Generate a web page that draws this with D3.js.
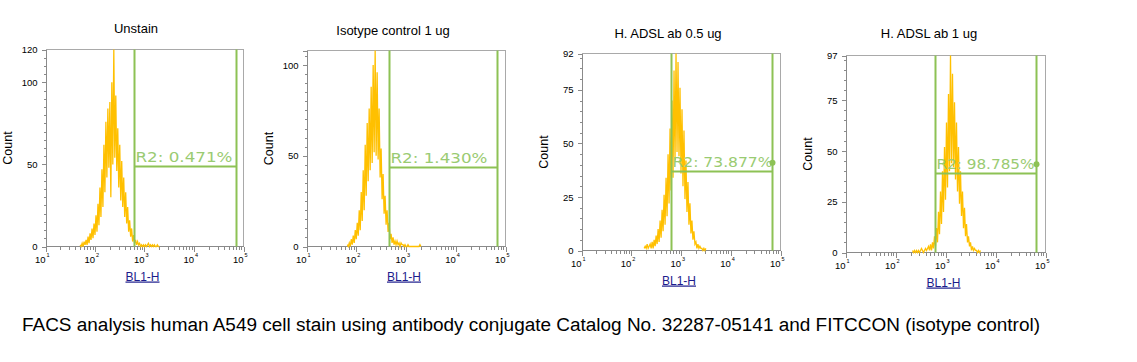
<!DOCTYPE html>
<html>
<head>
<meta charset="utf-8">
<script src="https://cdn.jsdelivr.net/npm/d3@7"></script>
<style>
  html, body { margin: 0; padding: 0; background: #ffffff; }
  svg { display: block; }
</style>
</head>
<body>
<svg id="chart" width="1137" height="362"></svg>
<script>
// ---------------- DATA ----------------
const panelTitles = ["Unstain", "Isotype control 1 ug", "H. ADSL ab 0.5 ug", "H. ADSL ab 1 ug"];
const yMaxes = [120, 108, 92, 97];
const yTickValues = [[0, 50, 100, 120], [0, 50, 100], [0, 25, 50, 75, 92], [0, 25, 50, 75, 97]];
const xTickExponents = [1, 2, 3, 4, 5];
const xAxisLabel = "BL1-H";
const yAxisLabel = "Count";
// log10 of the first channel of each histogram, channel width in decades
const channelStartLog = [1.70, 1.82, 2.26, 2.34];
const channelWidthLog = 0.02;
const unstainCounts = [1,0,2,0,3,1,4,1,6,2,8,4,11,5,14,7,19,9,26,13,36,18,47,24,62,33,76,42,84,48,88,30,100,50,120,54,92,46,72,36,62,28,52,24,42,18,33,14,24,9,16,6,11,3,7,2,4,1,3,1,2,0,1,0,1,0,1,0,1,2,0,1,0,1,0,1,0,0,1,0,0];
const isotypeCounts = [1,0,2,0,4,1,6,2,9,4,13,6,20,9,30,14,42,20,56,28,68,36,76,42,88,46,100,52,108,50,96,48,76,38,54,26,40,18,28,12,20,8,13,4,7,2,5,1,3,1,3,1,2,0,2,1,1,0,1,0,0,1,0,0,0,0,0,0,0,0,0,0,0,1,0];
const adsl05Counts = [1,2,1,3,1,2,3,1,4,1,5,2,7,3,10,4,14,6,19,9,26,12,34,16,45,22,57,28,70,34,84,42,92,46,88,44,76,36,66,30,56,24,42,18,32,12,22,8,14,5,9,3,4,1,3,1,2,1,1,0,1,0,1];
const adsl1Counts = [1,0,1,0,1,0,1,0,1,2,1,0,1,2,1,2,3,1,4,1,5,2,8,3,12,5,20,9,30,14,40,20,52,26,64,32,78,40,97,44,88,42,74,36,64,30,52,24,40,18,30,12,22,8,14,5,8,3,5,1,3,1,2,1,1,0,1,0,1];
const histograms = [unstainCounts, isotypeCounts, adsl05Counts, adsl1Counts];
// gate R2 (fluorescence bounds and the count level of its bar)
const gateLow = [617, 462, 631, 617];
const gateHigh = [69000, 69000, 67600, 66000];
const gateLevel = [48.9, 44, 37, 39.3];
const gateMarkerLevel = [null, null, 41, 43.5];
const regionLabels = ["R2: 0.471%", "R2: 1.430%", "R2: 73.877%", "R2: 98.785%"];
const caption = "FACS analysis human A549 cell stain using antibody conjugate Catalog No. 32287-05141 and FITCCON (isotype control)";

// ---------------- LAYOUT ----------------
const layout = [
  {left: 45.5, right: 243.5, top: 49.5, bottom: 246.5, titleX: 136, titleY: 33, labelLen: 97},
  {left: 306.5, right: 505.5, top: 50.5, bottom: 246.5, titleX: 393, titleY: 35, labelLen: 97},
  {left: 581.5, right: 780.5, top: 53.5, bottom: 250.5, titleX: 668, titleY: 38, labelLen: 100},
  {left: 845.5, right: 1045.5, top: 55.5, bottom: 252.5, titleX: 929, titleY: 38, labelLen: 98}
];
const histColor = "#FFC000";
const gateColor = "#8DC255";
const gateTextColor = "#9ACB72";
const axisColor = "#8a8a8a";
const frameColor = "#a9a9a9";
const tickFont = "'Liberation Sans Narrow', 'Arial Narrow', Arial, sans-serif";

const svg = d3.select("#chart");

panelTitles.forEach((title, i) => {
  const L = layout[i];
  const g = svg.append("g");
  const x = d3.scaleLog().domain([10, 100000]).range([L.left, L.right]);
  const y = d3.scaleLinear().domain([0, yMaxes[i]]).range([L.bottom, L.top]);

  // title
  g.append("text").attr("x", L.titleX).attr("y", L.titleY)
    .attr("text-anchor", "middle").attr("font-family", "Arial, 'Liberation Sans', sans-serif")
    .attr("font-size", 13).attr("fill", "#000").text(title);

  // frame (top/right)
  g.append("path").attr("d", `M${L.left},${L.top}H${L.right}V${L.bottom}`)
    .attr("fill", "none").attr("stroke", frameColor).attr("stroke-width", 1)
    .attr("shape-rendering", "crispEdges");

  // y axis
  const yAxis = d3.axisLeft(y).tickValues(yTickValues[i]).tickSize(4).tickPadding(4);
  const ya = g.append("g").attr("transform", `translate(${L.left},0)`).call(yAxis);
  ya.select(".domain").attr("stroke", axisColor).attr("shape-rendering", "crispEdges");
  ya.selectAll(".tick line").attr("stroke", axisColor).attr("shape-rendering", "crispEdges");
  ya.selectAll(".tick text").attr("font-family", tickFont).attr("font-size", 9.5).attr("fill", "#000");
  // minor y ticks
  const minorY = d3.range(0, yMaxes[i] + 0.001, 5).filter(v => !yTickValues[i].includes(v));
  g.selectAll(".ymin").data(minorY).enter().append("line")
    .attr("x1", L.left - 2).attr("x2", L.left)
    .attr("y1", d => Math.round(y(d)) + 0.5).attr("y2", d => Math.round(y(d)) + 0.5)
    .attr("stroke", axisColor).attr("shape-rendering", "crispEdges");

  // x axis line
  g.append("line").attr("x1", L.left).attr("x2", L.right).attr("y1", L.bottom).attr("y2", L.bottom)
    .attr("stroke", axisColor).attr("shape-rendering", "crispEdges");
  const minorX = [];
  for (let e = 1; e < 5; e++) for (let m = 2; m <= 9; m++) minorX.push(m * Math.pow(10, e));
  g.selectAll(".xmin").data(minorX).enter().append("line")
    .attr("x1", d => Math.round(x(d)) + 0.5).attr("x2", d => Math.round(x(d)) + 0.5)
    .attr("y1", L.bottom).attr("y2", L.bottom + 3)
    .attr("stroke", axisColor).attr("shape-rendering", "crispEdges");
  const majorX = xTickExponents.map(e => Math.pow(10, e));
  g.selectAll(".xmaj").data(majorX).enter().append("line")
    .attr("x1", d => Math.round(x(d)) + 0.5).attr("x2", d => Math.round(x(d)) + 0.5)
    .attr("y1", L.bottom).attr("y2", L.bottom + 5)
    .attr("stroke", axisColor).attr("shape-rendering", "crispEdges");
  xTickExponents.forEach(e => {
    const tx = x(Math.pow(10, e));
    g.append("text").attr("x", tx).attr("y", L.bottom + 16)
      .attr("text-anchor", "end").attr("font-family", tickFont).attr("font-size", 9.5)
      .attr("fill", "#000").text("10");
    g.append("text").attr("x", tx + 1).attr("y", L.bottom + 10)
      .attr("font-family", tickFont).attr("font-size", 5.5)
      .attr("fill", "#000").text(String(e));
  });

  // axis labels
  g.append("text").attr("x", (L.left + L.right) / 2 - 2).attr("y", L.bottom + 34)
    .attr("text-anchor", "middle").attr("font-family", "Arial, 'Liberation Sans', sans-serif")
    .attr("font-size", 12).attr("fill", "#1c1c8c").attr("text-decoration", "underline")
    .text(xAxisLabel);
  g.append("text")
    .attr("transform", `translate(${L.left - 34},${(L.top + L.bottom) / 2}) rotate(-90)`)
    .attr("text-anchor", "middle").attr("font-family", "Arial, 'Liberation Sans', sans-serif")
    .attr("font-size", 12.5).attr("fill", "#000").text(yAxisLabel);

  // histogram
  const counts = histograms[i];
  const pts = counts.map((c, k) => [Math.pow(10, channelStartLog[i] + k * channelWidthLog), c]);
  const line = d3.line().x(d => x(d[0])).y(d => y(d[1]));
  g.append("path").datum(pts).attr("d", line)
    .attr("fill", "none").attr("stroke", histColor).attr("stroke-width", 1.3)
    .attr("stroke-linejoin", "miter");

  // gate
  const gx1 = Math.round(x(gateLow[i])) + 0.5;
  const gx2 = Math.round(x(gateHigh[i])) + 0.5;
  const gy = Math.round(y(gateLevel[i])) + 0.5;
  g.append("path").attr("d", `M${gx1},${L.top}V${L.bottom}M${gx1},${gy}H${gx2}M${gx2},${L.top}V${L.bottom}`)
    .attr("fill", "none").attr("stroke", gateColor).attr("stroke-width", 2);
  g.append("text").attr("x", gx1 + 1).attr("y", gy - 5)
    .attr("font-family", "'DejaVu Sans', Verdana, sans-serif").attr("font-size", 14)
    .attr("textLength", L.labelLen).attr("lengthAdjust", "spacingAndGlyphs")
    .attr("fill", gateTextColor).text(regionLabels[i]);
  if (gateMarkerLevel[i] !== null) {
    g.append("circle").attr("cx", gx2).attr("cy", y(gateMarkerLevel[i])).attr("r", 3)
      .attr("fill", gateColor);
  }
});

svg.append("text").attr("x", 22).attr("y", 331)
  .attr("font-family", "Arial, 'Liberation Sans', sans-serif").attr("font-size", 18)
  .attr("textLength", 1018).attr("lengthAdjust", "spacingAndGlyphs")
  .attr("fill", "#000").text(caption);
</script>
</body>
</html>
